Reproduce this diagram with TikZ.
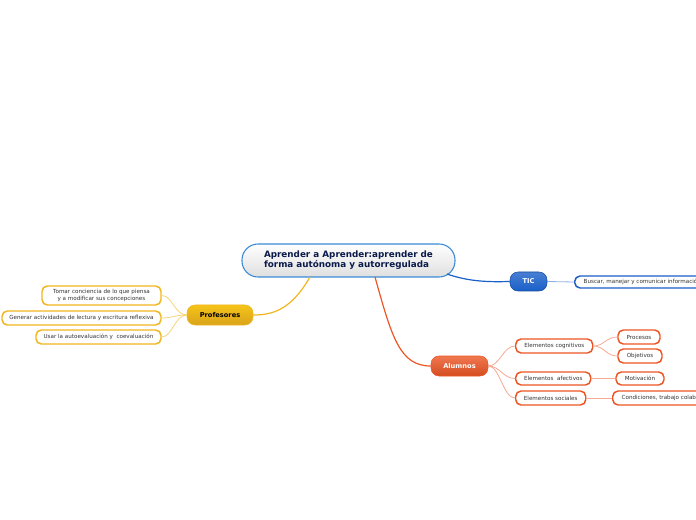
\documentclass[tikz,border=0pt]{standalone}
\usepackage{fontspec}
\setmainfont{DejaVu Sans}
\definecolor{centralblue}{HTML}{3A8AD8}
\definecolor{navytext}{HTML}{0A1A4A}
\definecolor{ticblue}{HTML}{1A5FC8}
\definecolor{profyellow}{HTML}{F2B51E}
\definecolor{alumorange}{HTML}{EC5524}
\definecolor{leaftext}{HTML}{333333}
\tikzset{
  central/.style={draw=centralblue, line width=0.8pt, rounded corners=12pt,
    top color=white, bottom color=gray!25, text=navytext,
    font=\fontsize{6.6}{7.6}\selectfont\bfseries, align=left},
  topic/.style={rounded corners=6pt, inner sep=0pt, text=white,
    font=\fontsize{5}{6}\selectfont\bfseries},
  leaf/.style={draw, line width=1.1pt, fill=white, rounded corners=4pt, inner sep=0pt,
    text=leaftext, font=\fontsize{4.2}{5}\selectfont, align=center},
  link/.style={line width=0.9pt},
  sublink/.style={line width=0.6pt}
}
\begin{document}
\begin{tikzpicture}[x=0.75pt,y=-0.75pt]
  \clip (0,0) rectangle (696,520);

  \node[central, minimum width=159.75pt, minimum height=24.75pt] (main) at (348.5,260.5)
    {Aprender a Aprender:aprender de\\forma autónoma y autorregulada};

  \node[topic, draw=ticblue!80!black, top color=ticblue!80!white, bottom color=ticblue,
    minimum width=27.75pt, minimum height=14.25pt] (tic) at (528.5,281.5) {TIC};
  \node[topic, draw=profyellow, top color=profyellow!80!yellow, bottom color=profyellow!90!black,
    text=black, minimum width=49.5pt, minimum height=15pt] (prof) at (220,315) {Profesores};
  \node[topic, draw=alumorange, top color=alumorange!80!white, bottom color=alumorange!90!black,
    minimum width=42.75pt, minimum height=15pt] (alum) at (459.5,366) {Alumnos};

  \node[leaf, draw=ticblue, anchor=west, inner xsep=6.75pt, minimum height=9pt] (buscar) at (574,282)
    {Buscar, manejar y comunicar información};

  \node[leaf, draw=profyellow, minimum width=89.25pt, minimum height=14.25pt] (tomar) at (101.5,295.5)
    {Tomar conciencia de lo que piensa\\y a modificar sus concepciones};
  \node[leaf, draw=profyellow, minimum width=119.25pt, minimum height=10.5pt] (generar) at (81.5,318)
    {Generar actividades de lectura y escritura reflexiva};
  \node[leaf, draw=profyellow, minimum width=93.75pt, minimum height=10.5pt] (usar) at (98.5,337)
    {Usar la autoevaluación y\ \ coevaluación};

  \node[leaf, draw=alumorange, anchor=west, minimum width=57.75pt, minimum height=10.5pt] (cogn) at (515,346)
    {Elementos cognitivos};
  \node[leaf, draw=alumorange, anchor=west, minimum width=56.25pt, minimum height=9.75pt] (afec) at (515,378.5)
    {Elementos\ \ afectivos};
  \node[leaf, draw=alumorange, anchor=west, minimum width=52.5pt, minimum height=10.5pt] (soc) at (515,398)
    {Elementos sociales};

  \node[leaf, draw=alumorange, minimum width=31.5pt, minimum height=10.5pt] (proc) at (639,337) {Procesos};
  \node[leaf, draw=alumorange, minimum width=33pt, minimum height=10.5pt] (obj) at (640,356) {Objetivos};
  \node[leaf, draw=alumorange, minimum width=36pt, minimum height=9.75pt] (motiv) at (640,378.5) {Motivación};
  \node[leaf, draw=alumorange, anchor=west, inner xsep=6.75pt, minimum height=10.5pt] (cond) at (612,398)
    {Condiciones, trabajo colaborativo};

  % main branches
  \coordinate (mP) at (310,277);
  \coordinate (mA) at (375,277);
  \coordinate (mT) at (447,274);
  \draw[link, profyellow] (mP) .. controls (292,308) and (275,315) .. (prof.east);
  \draw[link, alumorange] (mA) .. controls (392,338) and (400,366) .. (alum.west);
  \draw[link, ticblue] (mT) .. controls (470,282) and (490,282) .. (tic.west);

  % sub branches
  \draw[sublink, profyellow!60] (prof.west) .. controls (175,315) and (172,295.5) .. (tomar.east);
  \draw[sublink, profyellow!60] (prof.west) .. controls (175,315) and (172,318) .. (generar.east);
  \draw[sublink, profyellow!60] (prof.west) .. controls (175,315) and (172,337) .. (usar.east);
  \draw[sublink, ticblue!50] (tic.east) -- (buscar.west);
  \draw[sublink, alumorange!50] (alum.east) .. controls (500,366) and (503,346) .. (cogn.west);
  \draw[sublink, alumorange!50] (alum.east) .. controls (500,366) and (503,378.5) .. (afec.west);
  \draw[sublink, alumorange!50] (alum.east) .. controls (500,366) and (503,398) .. (soc.west);
  \draw[sublink, alumorange!50] (cogn.east) .. controls (604,346) and (606,337) .. (proc.west);
  \draw[sublink, alumorange!50] (cogn.east) .. controls (604,346) and (606,356) .. (obj.west);
  \draw[sublink, alumorange!50] (afec.east) -- (motiv.west);
  \draw[sublink, alumorange!50] (soc.east) -- (cond.west);
\end{tikzpicture}
\end{document}
